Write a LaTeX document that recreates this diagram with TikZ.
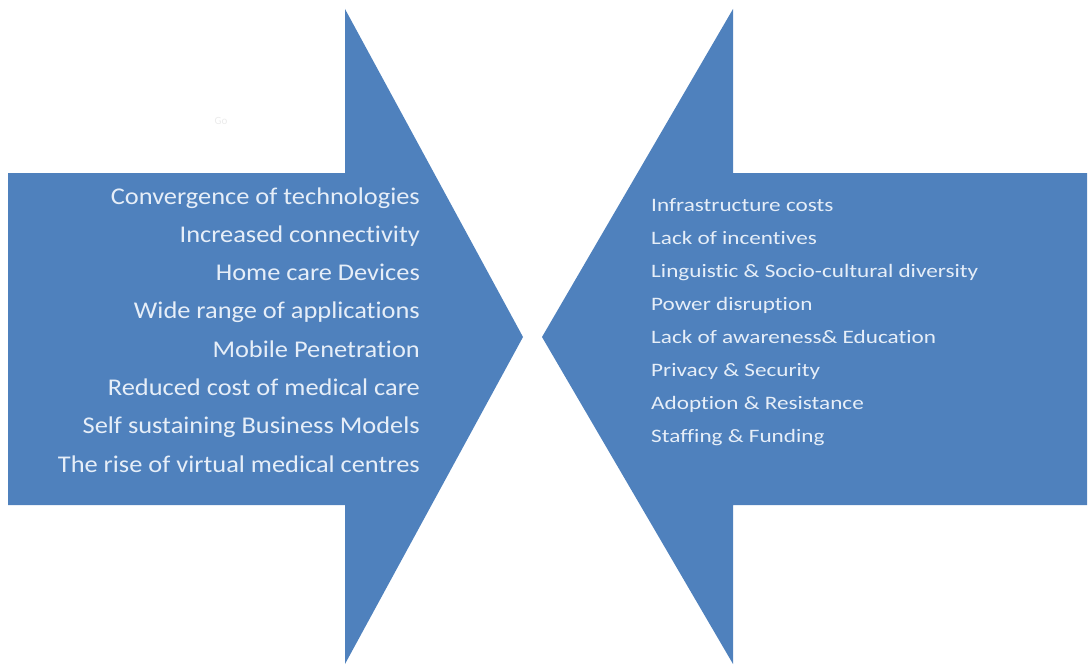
\documentclass[tikz,border=0pt]{standalone}
\usepackage{fontspec}
\setmainfont{Carlito}[Ligatures=NoCommon]
\newfontfamily\leftfont[FakeStretch=1.1,Ligatures=NoCommon]{Carlito}
\newfontfamily\rightfont[FakeStretch=1.22,Ligatures=NoCommon]{Carlito}
\definecolor{arrowblue}{HTML}{4F81BD}
\definecolor{txtcol}{HTML}{E6EEF8}
\tikzset{
  arrowshape/.style={fill=arrowblue},
  lefttxt/.style={anchor=base east, inner sep=0pt, text=txtcol, font=\leftfont\fontsize{24}{28}\selectfont},
  righttxt/.style={anchor=base west, inner sep=0pt, text=txtcol, font=\rightfont\fontsize{19}{22}\selectfont}
}
\begin{document}
\begin{tikzpicture}[x=1pt,y=-1pt]
\useasboundingbox (0,0) rectangle (1091,669);
\fill[arrowshape] (8,173) -- (345,173) -- (345,9) -- (523,337) -- (345,664) -- (345,505) -- (8,505) -- cycle;
\fill[arrowshape] (1087,173) -- (733,173) -- (733,9) -- (542,337) -- (733,664) -- (733,505) -- (1087,505) -- cycle;
\node[inner sep=0pt, text=black!8, font=\fontsize{11}{13}\selectfont] (go) at (221,121) {Go};
\foreach \t [count=\i] in {Convergence of technologies, Increased connectivity, Home care Devices, Wide range of applications, Mobile Penetration, Reduced cost of medical care, Self sustaining Business Models, The rise of virtual medical centres}
  \node[lefttxt] (l\i) at (420,{204+38.3*(\i-1)}) {\t};
\foreach \t [count=\i] in {Infrastructure costs, Lack of incentives, Linguistic \& Socio-cultural diversity, Power disruption, Lack of awareness\& Education, Privacy \& Security, Adoption \& Resistance, Staffing \& Funding}
  \node[righttxt] (r\i) at (651,{211+33.1*(\i-1)}) {\t};
\end{tikzpicture}
\end{document}
